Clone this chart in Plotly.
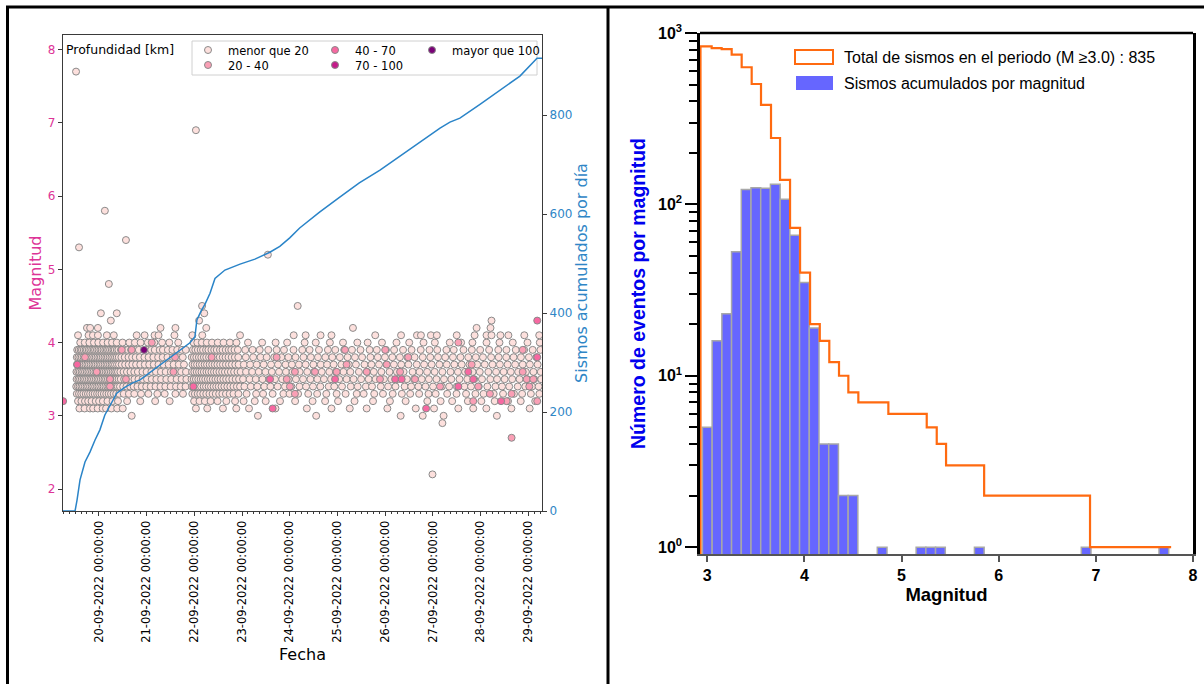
import pandas as pd
import plotly.graph_objects as go

W, H = 1204, 684
BASE = pd.Timestamp("2022-09-19 00:00")

# ---------------- LEFT PANEL DATA (hours since 2022-09-19 00:00, magnitude rows) -------------
R30 = [40.5, 104.0, 133.3, 175.8, 186.9, 197.4, 224.2]
R31 = [14.2, 16.8, 19.5, 21.1, 23.4, 25.9, 27.6, 30.3, 33.2, 36.0, 72.8, 78.5, 86.4, 93.1,
       99.5, 112.8, 128.6, 141.0, 150.2, 158.7, 169.1, 183.4, 192.6, 204.8, 212.3, 218.9, 231.5, 240.7]
R32 = [13.5, 15.2, 17.0, 18.6, 20.3, 22.4, 24.1, 26.0, 28.3, 30.9, 33.6, 38.2, 44.8, 52.3, 59.6,
       71.9, 74.6, 77.3, 80.2, 83.7, 88.1, 92.5,
       96.8, 102.4, 107.9, 115.1, 122.7, 131.5, 137.8, 144.3, 152.6, 161.9, 170.4, 178.3, 189.2, 195.9,
       201.7, 209.6, 216.4, 223.1, 229.8, 236.2, 243.5]
R33 = [12.9, 14.0, 15.1, 16.2, 17.4, 18.5, 19.6, 20.8, 21.9, 23.1, 24.2, 25.3, 26.5, 27.7, 28.9, 30.1,
       31.4, 32.7, 34.2, 36.5, 39.1, 41.8, 45.2, 48.9, 53.4, 57.1, 62.5, 66.3,
       71.0, 72.3, 73.7, 75.0, 76.5, 78.0, 79.6, 81.2, 82.8, 84.5, 86.1, 87.9, 89.8, 91.7, 94.2,
       98.3, 103.1, 106.6, 111.4, 116.8, 119.9, 124.2, 129.3, 133.8, 138.4, 143.6, 148.1, 153.7, 157.2,
       162.5, 166.9, 171.8, 176.4, 180.6, 185.1, 189.8, 193.4, 199.2, 203.9, 208.7, 213.4, 217.5, 222.6,
       227.3, 232.8, 236.9, 241.3, 245.6]
R34 = [12.6, 13.5, 14.3, 15.2, 16.0, 16.9, 17.8, 18.6, 19.5, 20.4, 21.2, 22.1, 23.0, 23.8, 24.7, 25.6,
       26.4, 27.3, 28.2, 29.0, 29.9, 30.8, 31.7, 32.6, 33.5, 34.6, 36.2, 37.9, 39.7, 41.5, 43.4, 45.6,
       47.8, 50.1, 52.5, 55.0, 57.4, 60.1, 62.8, 65.2, 67.6,
       70.8, 71.9, 73.1, 74.2, 75.4, 76.7, 77.9, 79.2, 80.4, 81.7, 83.0, 84.3, 85.7, 87.1, 88.6, 90.1,
       91.7, 93.4, 95.0,
       97.2, 100.4, 103.7, 107.2, 110.3, 113.9, 117.6, 120.8, 124.9, 128.2, 131.7, 135.4, 139.6, 142.4,
       146.3, 150.7, 154.2, 158.3, 161.4, 165.8, 169.5, 173.2, 177.8, 181.1, 184.7, 188.3, 192.1, 196.5,
       200.2, 204.1, 207.9, 211.2, 215.1, 219.4, 223.5, 226.8, 230.4, 234.7, 238.5, 241.9, 245.2]
R35 = [12.8, 13.7, 14.5, 15.4, 16.3, 17.1, 18.0, 18.9, 19.8, 20.6, 21.5, 22.4, 23.3, 24.1, 25.0, 25.9,
       26.8, 27.6, 28.5, 29.4, 30.3, 31.1, 32.0, 32.9, 33.9, 35.0, 36.7, 38.4, 40.1, 41.9, 43.9, 46.0,
       48.2, 50.6, 52.9, 55.3, 57.9, 60.4, 63.1, 65.6, 68.0,
       70.6, 71.7, 72.8, 74.0, 75.2, 76.3, 77.5, 78.8, 80.0, 81.3, 82.6, 83.9, 85.2, 86.6, 88.0, 89.5,
       91.1, 92.8, 94.5,
       96.5, 99.8, 102.9, 106.3, 109.7, 112.6, 116.2, 119.5, 123.1, 126.7, 130.4, 133.9, 137.2, 140.8,
       144.9, 148.6, 152.1, 155.9, 159.7, 163.2, 167.4, 171.1, 174.6, 178.9, 182.5, 186.4, 190.0, 193.8,
       197.6, 201.3, 205.4, 209.3, 212.8, 216.7, 220.9, 224.3, 228.1, 231.9, 235.6, 239.4, 243.0, 246.5]
R36 = [12.7, 13.6, 14.4, 15.3, 16.1, 17.0, 17.9, 18.7, 19.6, 20.5, 21.3, 22.2, 23.1, 23.9, 24.8, 25.7,
       26.5, 27.4, 28.3, 29.1, 30.0, 30.9, 31.8, 32.7, 33.6, 34.8, 36.4, 38.1, 39.9, 41.8, 43.6, 45.9,
       48.0, 50.4, 52.7, 55.2, 57.6, 60.2, 62.9, 65.4, 67.8,
       70.9, 72.0, 73.2, 74.4, 75.6, 76.8, 78.1, 79.3, 80.6, 81.9, 83.2, 84.6, 86.0, 87.4, 88.9, 90.4,
       92.0, 93.7, 95.3,
       98.0, 101.1, 104.4, 107.8, 111.0, 114.6, 118.1, 121.4, 125.0, 128.8, 132.3, 136.1, 139.9, 143.2,
       147.0, 150.5, 154.8, 158.9, 162.3, 166.1, 170.2, 173.9, 177.3, 181.8, 185.3, 189.1, 192.9, 196.8,
       200.9, 204.6, 208.2, 212.0, 215.6, 219.9, 223.8, 227.6, 231.2, 234.9, 238.8, 242.6, 246.3]
R37 = [13.0, 13.8, 14.7, 15.6, 16.4, 17.3, 18.2, 19.0, 19.9, 20.8, 21.7, 22.5, 23.4, 24.3, 25.1, 26.0,
       26.9, 27.8, 28.6, 29.5, 30.4, 31.2, 32.1, 33.1, 34.1, 35.5, 37.2, 39.0, 40.8, 42.7, 44.8, 47.1,
       49.3, 51.6, 54.0, 56.5, 59.1, 61.6, 64.2, 66.8,
       71.1, 72.2, 73.4, 74.7, 75.9, 77.2, 78.4, 79.7, 81.0, 82.3, 83.6, 85.0, 86.4, 87.9, 89.4, 90.9,
       92.6, 94.3,
       96.9, 100.1, 103.4, 106.9, 110.6, 114.1, 117.9, 121.1, 124.6, 128.0, 131.9, 135.6, 138.8, 142.1,
       146.0, 149.7, 153.3, 157.6, 161.1, 164.9, 168.7, 172.4, 176.1, 179.7, 183.9, 187.6, 191.4, 195.3,
       199.0, 202.8, 206.5, 210.4, 214.3, 218.1, 222.0, 225.7, 229.6, 233.4, 237.2, 240.8, 244.7]
R38 = [12.9, 13.7, 14.6, 15.4, 16.3, 17.2, 18.1, 18.9, 19.8, 20.7, 21.6, 22.4, 23.3, 24.2, 25.0, 25.9,
       26.8, 27.7, 28.5, 29.4, 30.3, 31.2, 32.1, 33.0, 34.0, 35.3, 37.0, 38.9, 40.7, 42.5, 44.6, 46.9,
       49.0, 51.4, 53.8, 56.1, 58.5, 61.2, 63.7, 66.2,
       70.7, 71.8, 73.0, 74.3, 75.5, 76.8, 78.0, 79.4, 80.7, 82.1, 83.5, 84.8, 86.3, 87.7, 89.2, 90.8,
       92.4, 94.1,
       97.9, 101.6, 105.3, 108.4, 112.2, 115.8, 119.3, 122.9, 126.9, 130.6, 134.2, 137.9, 141.4, 145.2,
       149.1, 152.8, 156.4, 160.6, 164.3, 167.9, 171.6, 175.4, 179.2, 182.8, 186.9, 190.7, 194.6, 198.2,
       202.1, 205.9, 209.8, 213.6, 217.2, 221.3, 225.1, 228.9, 232.6, 236.3, 240.3, 244.1]
R39 = [13.1, 13.9, 14.8, 15.5, 16.4, 17.3, 18.0, 18.9, 19.7, 20.6, 21.4, 22.1, 23.0, 23.8, 24.7, 25.4,
       26.3, 27.2, 28.0, 28.7, 29.6, 30.5, 31.3, 32.0, 33.0, 33.8, 35.1, 36.9, 38.6, 40.2, 42.3, 44.1,
       48.4, 50.3, 52.1, 54.6, 56.2, 58.7, 61.0, 63.4, 65.8, 67.7,
       71.3, 72.5, 73.8, 75.2, 76.4, 77.9, 79.1, 80.6, 82.0, 83.3, 84.9, 86.2, 87.8, 89.3, 90.6, 92.2, 93.9,
       97.6, 101.3, 104.9, 109.2, 113.4, 117.1, 121.9, 126.3, 130.0, 134.7, 139.2, 142.9, 147.4, 151.3,
       155.6, 160.2, 163.8, 168.4, 172.5, 177.0, 181.3, 185.9, 190.3, 194.2, 198.8, 202.5, 207.4, 211.6,
       215.8, 220.3, 224.9, 229.0, 233.7, 237.9, 242.2, 246.1]
R40 = [14.6, 16.9, 19.2, 21.5, 23.7, 26.1, 28.4, 30.6, 33.0, 35.9, 39.3, 42.1, 45.0, 48.6, 51.9, 55.8,
       59.4, 63.9, 71.6, 73.5, 75.8, 78.3, 80.9, 83.8, 86.7, 89.9, 93.2,
       99.0, 106.1, 112.9, 118.7, 127.5, 133.1, 140.2, 146.8, 154.0, 159.2, 166.4, 173.7, 180.1, 187.3,
       193.0, 200.5, 206.2, 211.9, 219.0, 225.5, 232.2, 239.6, 245.8]
R41 = [13.5, 18.8, 21.0, 23.5, 28.0, 31.5, 43.0, 47.0, 52.0, 54.0, 62.0, 71.0, 76.0, 95.0, 122.0,
       128.0, 135.5, 141.0, 163.0, 176.0, 184.0, 186.0, 191.0, 194.0, 204.0, 213.0, 219.0, 221.5, 226.0,
       230.0, 238.0, 245.5]
R42 = [18.0, 19.6, 23.5, 55.0, 62.5, 78.0, 151.8, 214.0, 221.0]
ROWS = {3.0: R30, 3.1: R31, 3.2: R32, 3.3: R33, 3.4: R34, 3.5: R35, 3.6: R36, 3.7: R37,
        3.8: R38, 3.9: R39, 4.0: R40, 4.1: R41, 4.2: R42}

OUT_H = [12.5, 14.0, 25.0, 27.0, 29.0, 30.0, 33.0, 37.6, 72.8, 74.4, 75.9, 77.0, 109.0, 124.0,
         221.5, 191.8, 196.8]
OUT_M = [7.7, 5.3, 4.4, 5.8, 4.8, 4.3, 4.4, 5.4, 6.9, 4.3, 4.5, 4.4, 5.2, 4.5, 4.3, 2.2, 2.9]

# depth 20 - 40 km
D2_H = [35.5, 40.5, 50.6, 17.0, 22.9, 29.6, 37.6, 29.6, 62.3, 61.5, 80.7, 113.4, 118.5, 122.6, 120.1,
        122.6, 132.7, 143.6, 147.8, 148.6, 158.7, 165.4, 168.0, 168.8, 175.5, 179.6, 183.0, 195.6,
        204.8, 211.5, 212.3, 214.8, 220.7, 229.1, 231.6, 231.6, 237.2, 237.2, 239.2, 240.5, 242.5, 244.5]
D2_M = [3.9, 3.9, 4.0, 3.8, 3.6, 3.5, 3.5, 3.4, 3.8, 3.6, 3.8, 3.8, 3.5, 3.6, 3.4,
        3.3, 3.6, 3.6, 3.9, 3.7, 3.6, 3.5, 3.9, 3.7, 3.6, 3.8, 3.5, 3.4,
        4.0, 3.7, 3.2, 3.4, 3.3, 3.2, 3.3, 2.7, 3.9, 3.6, 3.5, 3.4, 3.5, 3.2]
# depth 40 - 70 km
D3_H = [6.0, 13.1, 71.5, 110.1, 111.4, 142.8, 173.0, 176.3, 188.6, 204.8, 209.8, 212.3, 226.3, 244.5, 244.5]
D3_M = [3.2, 3.7, 3.4, 3.5, 3.1, 3.5, 3.5, 3.5, 3.1, 3.4, 3.6, 3.5, 3.2, 4.3, 3.8]
# depth 70 - 100 km (none visible)
D4_H = []
D4_M = []
# depth > 100 km
D5_H = [46.7]
D5_M = [3.9]

# cumulative count line
LINE_H = [5.9, 12.0, 13.0, 14.5, 17.0, 19.5, 22.0, 24.5, 27.0, 29.6, 33.0, 37.0, 41.0, 44.7, 49.7,
          54.7, 59.8, 64.8, 69.8, 72.3, 73.3, 75.5, 77.4, 79.9, 82.4, 87.4, 95.0, 102.5, 110.0, 115.0,
          120.0, 125.0, 135.0, 145.0, 155.0, 165.4, 175.5, 185.5, 195.6, 200.6, 205.6, 215.7, 225.8,
          235.8, 244.4, 246.9]
LINE_N = [0, 0, 22, 63, 99, 119, 143, 164, 194, 214, 238, 250, 259, 265, 280,
          295, 310, 325, 340, 352, 386, 405, 418, 440, 470, 487, 499, 509, 523, 535,
          552, 572, 604, 634, 663, 689, 717, 745, 774, 786, 794, 822, 851,
          879, 915, 915]

DATE_TICKS = ["2022-09-%02d" % d for d in range(20, 30)]

# ---------------- RIGHT PANEL DATA -------------
HIST_MAG = [3.0, 3.1, 3.2, 3.3, 3.4, 3.5, 3.6, 3.7, 3.8, 3.9, 4.0, 4.1, 4.2, 4.3, 4.4, 4.5,
            4.8, 5.2, 5.3, 5.4, 5.8, 6.9, 7.7]
HIST_COUNT = [5, 16, 23, 53, 122, 125, 124, 131, 107, 66, 35, 19, 4, 4, 2, 2,
              1, 1, 1, 1, 1, 1, 1]
CUM_EDGES = [2.93, 3.045, 3.148, 3.251, 3.354, 3.457, 3.553, 3.656, 3.749, 3.852, 3.955, 4.058,
             4.158, 4.256, 4.356, 4.452, 4.555, 4.864, 5.259, 5.362, 5.458, 5.85, 6.94, 7.775]
CUM_COUNT = [835, 817, 805, 747, 631, 504, 381, 244, 139, 73, 40, 20, 16, 12, 10, 8, 7, 6, 5, 4, 3, 2, 1]
TOTAL = 835


def px(x):
    return x / W


def py(y):
    return 1 - y / H


def dates(hours):
    return [BASE + pd.Timedelta(hours=h) for h in hours]


fig = go.Figure()

# background (menor que 20) points
bh, bm = [], []
for m, hs in ROWS.items():
    bh += hs
    bm += [m] * len(hs)
bh += OUT_H
bm += OUT_M

EDGE = dict(color="#8a8a8a", width=1)
MS = 7
cls = [
    ("menor que 20", bh, bm, "#fde0dd", "legend"),
    ("20 - 40", D2_H, D2_M, "#fa9fb5", "legend2"),
    ("40 - 70", D3_H, D3_M, "#f768a1", "legend3"),
    ("70 - 100", D4_H, D4_M, "#c51b8a", "legend4"),
    ("mayor que 100", D5_H, D5_M, "#7a0177", "legend5"),
]
for name, hs, ms, col, lg in cls:
    if hs:
        xx, yy = dates(hs), ms
    else:
        xx, yy = [None], [None]
    fig.add_trace(go.Scatter(
        x=xx, y=yy, mode="markers", name=name, legend=lg,
        marker=dict(size=MS, color=col, line=EDGE),
        xaxis="x", yaxis="y", showlegend=True))

fig.add_trace(go.Scatter(
    x=dates(LINE_H), y=LINE_N, mode="lines", line=dict(color="#2a84c8", width=1.5),
    xaxis="x", yaxis="y2", showlegend=False))

# right panel
fig.add_trace(go.Bar(
    x=HIST_MAG, y=HIST_COUNT, width=0.1,
    marker=dict(color="#6666ff", line=dict(color="#a8a8a8", width=1.5)),
    xaxis="x3", yaxis="y3", showlegend=False))
sx = [CUM_EDGES[0]] + CUM_EDGES[:-1] + [CUM_EDGES[-1]]
sy = [0.5] + CUM_COUNT + [CUM_COUNT[-1]]
fig.add_trace(go.Scatter(
    x=sx, y=sy, mode="lines", line=dict(color="#ff6a10", width=2.2, shape="hv"),
    xaxis="x3", yaxis="y3", showlegend=False))

PINK = "#dd3497"
BLUE = "#2f86c6"
DV = "DejaVu Sans"
AR = "Liberation Sans"
AX = "#3a3a3a"

layout = dict(
    width=W, height=H, autosize=False, margin=dict(l=0, r=0, t=0, b=0, autoexpand=False),
    paper_bgcolor="white", plot_bgcolor="white",
    font=dict(family=DV, size=12, color="black"),
    barmode="overlay",
    xaxis=dict(domain=[px(63), px(542)], type="date",
               range=[BASE + pd.Timedelta(hours=5.94), BASE + pd.Timedelta(hours=246.9)],
               tickvals=DATE_TICKS, ticktext=[pd.Timestamp(d).strftime("%d-%m-%Y %H:%M:%S") for d in DATE_TICKS],
               tickangle=-90, tickfont=dict(family=DV, size=11.5, color="black"),
               ticks="outside", ticklen=4, tickcolor=AX,
               minor=dict(dtick=3 * 3600 * 1000, ticks="outside", ticklen=2, tickcolor=AX),
               showline=True, linecolor=AX, linewidth=1.2, mirror=True, showgrid=False, zeroline=False,
               title=dict(text="Fecha", font=dict(family=DV, size=16), standoff=6),
               anchor="y"),
    yaxis=dict(domain=[py(511), py(35)], range=[1.7, 8.2], tickvals=[2, 3, 4, 5, 6, 7, 8],
               tickfont=dict(family=DV, size=12, color=PINK), ticks="outside", ticklen=4, tickcolor=AX,
               showline=True, linecolor=AX, linewidth=1.2, showgrid=False, zeroline=False,
               title=dict(text="Magnitud", font=dict(family=DV, size=16, color=PINK), standoff=2),
               anchor="x"),
    yaxis2=dict(overlaying="y", side="right", range=[0, 962], tickvals=[0, 200, 400, 600, 800],
                tickfont=dict(family=DV, size=12, color=BLUE), ticks="outside", ticklen=4,
                tickcolor=AX, showline=True, linecolor=AX, linewidth=1.2, showgrid=False, zeroline=False,
                title=dict(text="Sismos acumulados por día", font=dict(family=DV, size=16, color=BLUE),
                           standoff=3),
                anchor="x"),
    xaxis3=dict(domain=[px(700), px(1193)], range=[2.925, 8.0], tickvals=[3, 4, 5, 6, 7, 8],
                ticktext=["<b>%d</b>" % v for v in [3, 4, 5, 6, 7, 8]],
                tickfont=dict(family=AR, size=16, color="black"), ticks="outside", ticklen=6,
                tickwidth=1.5, tickcolor="#555", showline=True, linecolor="#555", linewidth=2,
                showgrid=False, zeroline=False, anchor="y3",
                title=dict(text="<b>Magnitud</b>", font=dict(family=AR, size=18.5, color="black"), standoff=2)),
    yaxis3=dict(domain=[py(554), py(33)], type="log", range=[-0.04, 3.0],
                tickvals=[1, 10, 100, 1000],
                ticktext=["<b>10<sup>0</sup></b>", "<b>10<sup>1</sup></b>", "<b>10<sup>2</sup></b>",
                          "<b>10<sup>3</sup></b>"],
                tickfont=dict(family=AR, size=16, color="black"), ticks="outside", ticklen=12,
                tickwidth=1.5, tickcolor="black",
                minor=dict(tickvals=[2, 3, 4, 5, 6, 7, 8, 9, 20, 30, 40, 50, 60, 70, 80, 90,
                                     200, 300, 400, 500, 600, 700, 800, 900],
                           ticks="outside", ticklen=8, tickwidth=1.5, tickcolor="black"),
                showline=True, linecolor="black", linewidth=2.5, mirror=True,
                showgrid=False, zeroline=False, anchor="x3",
                title=dict(text="<b>Número de eventos por magnitud</b>",
                           font=dict(family=AR, size=19.5, color="#0000ee"), standoff=8)),
    showlegend=True,
)

# five one-item legends laid out as the 3-column matplotlib legend
LEG_POS = {"legend": (208, 50), "legend2": (208, 65), "legend3": (335, 50),
           "legend4": (335, 65), "legend5": (432, 50)}
for k, (mx, my) in LEG_POS.items():
    layout[k] = dict(x=px(mx - 20), y=py(my), xanchor="left", yanchor="middle",
                     bgcolor="rgba(0,0,0,0)", borderwidth=0,
                     font=dict(family=DV, size=11.5, color="black"),
                     itemwidth=30, tracegroupgap=0)

shapes = [
    # legend frame (left)
    dict(type="rect", xref="paper", yref="paper", x0=px(192), x1=px(537), y0=py(75), y1=py(41),
         line=dict(color="#d0d0d0", width=1), fillcolor="rgba(255,255,255,0.8)", layer="below"),
    # outer black border
    dict(type="line", xref="paper", yref="paper", x0=px(6), x1=1, y0=py(7), y1=py(7),
         line=dict(color="black", width=3)),
    dict(type="line", xref="paper", yref="paper", x0=px(7.5), x1=px(7.5), y0=py(6), y1=0,
         line=dict(color="black", width=3)),
    dict(type="line", xref="paper", yref="paper", x0=px(608), x1=px(608), y0=py(6), y1=0,
         line=dict(color="black", width=3)),
    # top spine of the right panel (black)
    dict(type="line", xref="paper", yref="paper", x0=px(700), x1=px(1193), y0=py(33), y1=py(33),
         line=dict(color="black", width=2.5)),
    # right-panel legend patches
    dict(type="rect", xref="paper", yref="paper", x0=px(795), x1=px(833), y0=py(64), y1=py(50),
         line=dict(color="#ff6a10", width=2), fillcolor="rgba(0,0,0,0)"),
    dict(type="rect", xref="paper", yref="paper", x0=px(796), x1=px(833), y0=py(90), y1=py(76),
         line=dict(width=0), fillcolor="#6666ff"),
]
annotations = [
    dict(text="Profundidad [km]", x=px(64), y=py(50), xref="paper", yref="paper", xanchor="left",
         yanchor="middle", showarrow=False, font=dict(family=DV, size=12.5, color="black")),
    dict(text="Total de sismos en el periodo (M \u22653.0) : %d" % TOTAL, x=px(842), y=py(57),
         xref="paper", yref="paper", xanchor="left", yanchor="middle", showarrow=False,
         font=dict(family=AR, size=16, color="black")),
    dict(text="Sismos acumulados por magnitud", x=px(842), y=py(83),
         xref="paper", yref="paper", xanchor="left", yanchor="middle", showarrow=False,
         font=dict(family=AR, size=16, color="black")),
]
layout["shapes"] = shapes
layout["annotations"] = annotations
fig.update_layout(**layout)
fig.write_html("out.html", config={"responsive": False, "displayModeBar": False})

# remove the browser's default page margin so the figure sits at (0, 0)
with open("out.html", encoding="utf-8") as f:
    html = f.read()
html = html.replace("<head>", "<head><style>html,body{margin:0;padding:0;overflow:hidden;}</style>", 1)
with open("out.html", "w", encoding="utf-8") as f:
    f.write(html)
